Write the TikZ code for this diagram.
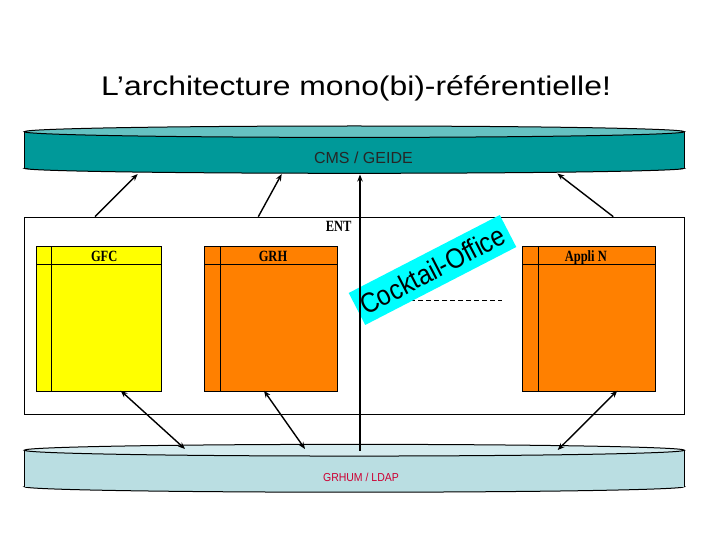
\documentclass[tikz,border=0pt]{standalone}
\usepackage{fontspec}
\setmainfont{Liberation Serif}
\setsansfont{Liberation Sans}
\usetikzlibrary{arrows.meta}
\definecolor{tealbody}{RGB}{0,153,153}
\definecolor{tealtop}{RGB}{102,194,194}
\definecolor{ldapbody}{RGB}{186,222,226}
\definecolor{ldaptop}{RGB}{214,236,239}
\definecolor{blockorange}{RGB}{255,128,0}
\definecolor{blockyellow}{RGB}{255,255,0}
\definecolor{cocktailcyan}{RGB}{0,255,255}
\definecolor{ldapred}{RGB}{204,0,51}
\begin{document}
\begin{tikzpicture}[x=1pt,y=-1pt,
  conn/.style={line width=1.4pt, -{Stealth[length=7pt,width=5.5pt]}},
  dconn/.style={line width=1.4pt, {Stealth[length=7pt,width=5.5pt]}-{Stealth[length=7pt,width=5.5pt]}},
  appbox/.style={draw=black, line width=0.9pt, minimum height=144.4pt, inner sep=0pt, anchor=north west},
  apptitle/.style={anchor=base, font=\fontsize{12.5}{12.5}\selectfont\bfseries},
  barline/.style={draw=black, line width=1pt}
]
\useasboundingbox (0,0) rectangle (720,540);

% title
\node[anchor=base, font=\sffamily\fontsize{27}{27}\selectfont] (title) at (356,96)
  {\scalebox{1.18}[1]{L’architecture mono(bi)-référentielle!}};

% top bar CMS / GEIDE
\filldraw[fill=tealbody, barline] (354.3,168.3) ellipse [x radius=330pt, y radius=5pt];
\fill[tealbody] (24.3,131.7) rectangle (684.3,168.3);
\draw[barline] (24.3,131.7) -- (24.3,168.3) (684.3,131.7) -- (684.3,168.3);
\filldraw[fill=tealtop, barline] (354.3,131.7) ellipse [x radius=330pt, y radius=5.7pt];
\node[anchor=base, font=\sffamily\fontsize{16}{16}\selectfont, text=black!85] (cms) at (363.4,163.3) {CMS / GEIDE};

% bottom bar GRHUM / LDAP
\filldraw[fill=ldapbody, barline] (354.3,486.7) ellipse [x radius=330pt, y radius=5.5pt];
\fill[ldapbody] (24.3,450.2) rectangle (684.3,486.7);
\draw[barline] (24.3,449.5) -- (24.3,486.7) (684.3,449.5) -- (684.3,486.7);
\filldraw[fill=ldaptop, barline] (354.3,450.2) ellipse [x radius=330pt, y radius=5.85pt];
\node[anchor=base, font=\sffamily\fontsize{10.5}{10.5}\selectfont, text=ldapred] (ldap) at (361,481)
  {\scalebox{1}[1.1]{GRHUM / LDAP}};

% ENT frame
\node[draw=black, line width=0.9pt, minimum width=660pt, minimum height=197.6pt, inner sep=0pt, anchor=north west] (ent) at (24.3,216.7) {};
\node[anchor=base east, font=\fontsize{12.5}{12.5}\selectfont\bfseries] (entlabel) at (355,231.7) {\scalebox{1}[1.25]{ENT}};

% application blocks
\node[appbox, fill=blockyellow, minimum width=124.7pt] (gfc) at (36,246.3) {};
\node[appbox, fill=blockorange, minimum width=132.7pt] (grh) at (204,246.3) {};
\node[appbox, fill=blockorange, minimum width=132.4pt] (appn) at (522.3,246.3) {};
\foreach \b/\dx in {gfc/15.7, grh/16.3, appn/16} {
  \draw[line width=0.9pt] ([xshift=\dx pt]\b.north west) -- ([xshift=\dx pt]\b.south west);
  \draw[line width=0.9pt] ([yshift=-18pt]\b.north west) -- ([yshift=-18pt]\b.north east);
}
\node[apptitle] (gfct) at (104.2,261.7) {\scalebox{1}[1.25]{GFC}};
\node[apptitle] (grht) at (273,261.7) {\scalebox{1}[1.25]{GRH}};
\node[apptitle] (appnt) at (585.8,261.7) {\scalebox{1}[1.25]{Appli N}};

% dashed line (partly hidden by the Cocktail-Office label)
\coordinate (dashL) at (362,300);
\coordinate (dashR) at (502,300);
\draw[line width=0.8pt, dash pattern=on 5pt off 3pt] (dashL) -- (dashR);

% Cocktail-Office label
\node[fill=cocktailcyan, rotate=27.3, minimum width=170pt, minimum height=36pt, inner sep=0pt,
      font=\sffamily\fontsize{28}{28}\selectfont] (cocktail) at (432.5,270)
  {\scalebox{0.88}[1]{Cocktail-Office}};

% connector endpoints
\coordinate (tA0) at (95,216.7);   \coordinate (tA1) at (137.7,174);
\coordinate (tB0) at (258.3,216.7); \coordinate (tB1) at (281.7,174);
\coordinate (tD0) at (613.3,216.7); \coordinate (tD1) at (557.3,173.5);
\coordinate (vbot) at (360,450.7); \coordinate (vtop) at (360,174.5);
\coordinate (bA0) at (120.7,390.7); \coordinate (bA1) at (185,449);
\coordinate (bB0) at (264,390.7);  \coordinate (bB1) at (305,449);
\coordinate (bC0) at (617.3,390.7); \coordinate (bC1) at (557.7,450);

% connectors
\draw[conn] (tA0) -- (tA1);
\draw[conn] (tB0) -- (tB1);
\draw[conn] (tD0) -- (tD1);
\draw[conn] (vbot) -- (vtop);
\draw[dconn] (bA0) -- (bA1);
\draw[dconn] (bB0) -- (bB1);
\draw[dconn] (bC0) -- (bC1);
\end{tikzpicture}
\end{document}
